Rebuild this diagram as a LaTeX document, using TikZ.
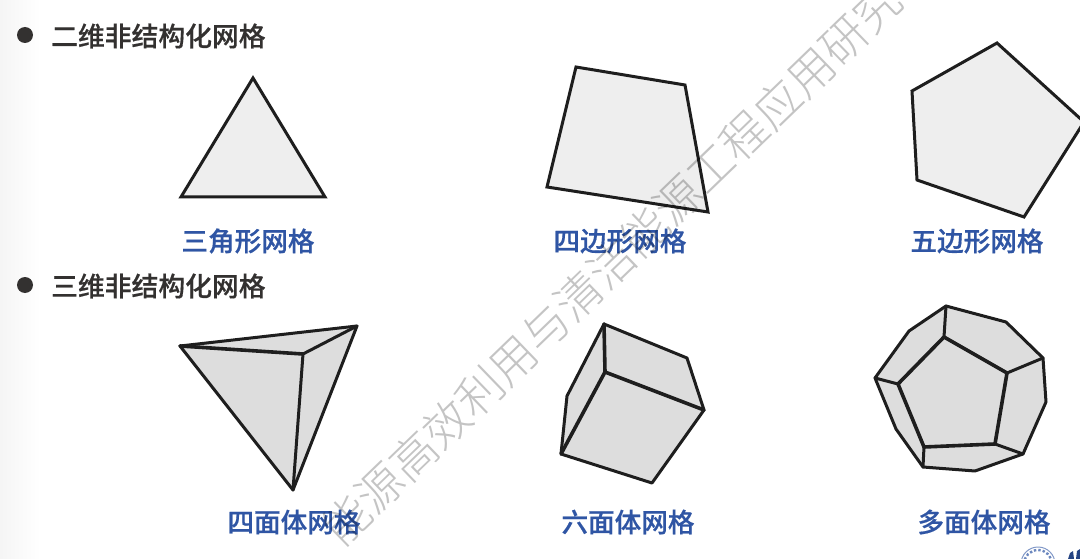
\documentclass[tikz,border=0pt]{standalone}
\usepackage{fontspec}
\setmainfont[BoldFont={Noto Sans CJK SC Medium},BoldFeatures={FakeBold=0.5}]{Noto Sans CJK SC}
\newfontfamily\wmfont{Noto Sans CJK SC Light}
\definecolor{headc}{HTML}{333130}
\definecolor{labelc}{HTML}{2F55A4}
\definecolor{flat}{HTML}{EEEEEE}
\definecolor{solid}{HTML}{DDDDDD}
\definecolor{wm}{HTML}{C4C4C4}
\definecolor{edge}{HTML}{1E1E1E}
\tikzset{
  x=1pt,y=-1pt,
  heading/.style={anchor=west,inner sep=0pt,text=headc,font=\fontsize{26.8}{27}\selectfont\bfseries},
  caption/.style={inner sep=0pt,text=labelc,font=\fontsize{26.6}{27}\selectfont\bfseries},
  bulletdot/.style={circle,fill=headc,minimum size=16pt,inner sep=0pt},
  faceflat/.style={draw=edge,fill=flat,line width=3pt,line join=miter},
  facesolid/.style={draw=edge,fill=solid,line width=3pt,line join=round},
  ridge/.style={draw=edge,line width=3pt,line cap=round,line join=round},
  thick ridge/.style={draw=edge,line width=3.6pt,line cap=round,line join=round},
  watermark/.style={inner sep=0pt,text=wm,rotate=44,font=\wmfont\fontsize{46}{46}\selectfont}
}
\begin{document}
\begin{tikzpicture}
\useasboundingbox (0,0) rectangle (1080,559);
\clip (0,0) rectangle (1080,559);
\fill[white] (0,0) rectangle (1080,559);
\shade[left color=black!4,right color=white] (0,0) rectangle (40,559);
% headings
\node[bulletdot] (b1) at (25,35) {};
\node[heading] (h1) at (51,36) {二维非结构化网格};
\node[bulletdot] (b2) at (25,285) {};
\node[heading] (h2) at (51,286) {三维非结构化网格};
% 2D shapes
\draw[faceflat] (253,78) -- (325,197) -- (181,197) -- cycle;
\draw[faceflat] (576,67) -- (685,85) -- (708,212) -- (547,187) -- cycle;
\draw[faceflat] (997,43) -- (1084,122) -- (1024,217) -- (917,180) -- (912,91) -- cycle;
% tetrahedron
\coordinate (ta) at (180,346);
\coordinate (tb) at (357,326);
\coordinate (tc) at (303,354);
\coordinate (td) at (293,490);
\draw[facesolid] (ta) -- (tb) -- (td) -- cycle;
\draw[thick ridge] (ta) -- (tc);
\draw[ridge] (tc) -- (tb) (tc) -- (td);
% hexahedron
\coordinate (c0) at (605,372);
\coordinate (c1) at (604,324);
\coordinate (c2) at (687,358);
\coordinate (c3) at (704,410);
\coordinate (c4) at (652,483);
\coordinate (c5) at (561,454);
\coordinate (c6) at (567,396);
\draw[facesolid] (c1) -- (c2) -- (c3) -- (c4) -- (c5) -- (c6) -- cycle;
\draw[thick ridge] (c0) -- (c1) (c0) -- (c3) (c0) -- (c5);
% dodecahedron
\coordinate (o1) at (946,306);
\coordinate (o2) at (1006,322);
\coordinate (o3) at (1043,358);
\coordinate (o4) at (1046,402);
\coordinate (o5) at (1023,454);
\coordinate (o6) at (975,471);
\coordinate (o7) at (923,467);
\coordinate (o8) at (896,429);
\coordinate (o9) at (875,378);
\coordinate (o10) at (909,331);
\coordinate (i1) at (944,337);
\coordinate (i2) at (1007,373);
\coordinate (i3) at (995,444);
\coordinate (i4) at (924,447);
\coordinate (i5) at (898,384);
\draw[facesolid] (o1) -- (o2) -- (o3) -- (o4) -- (o5) -- (o6) -- (o7) -- (o8) -- (o9) -- (o10) -- cycle;
\draw[thick ridge] (i1) -- (i2) -- (i3) -- (i4) -- (i5) -- cycle;
\draw[ridge] (i1) -- (o1) (i2) -- (o3) (i3) -- (o5) (i4) -- (o7) (i5) -- (o9);
% captions
\node[caption] (l1) at (248,241) {三角形网格};
\node[caption] (l2) at (620,241) {四边形网格};
\node[caption] (l3) at (977,241) {五边形网格};
\node[caption] (l4) at (294,522) {四面体网格};
\node[caption] (l5) at (628,522) {六面体网格};
\node[caption] (l6) at (984,522) {多面体网格};
% watermark
\begin{scope}[blend mode=multiply]
\node[watermark] (w) at (612,264) {能源高效利用与清洁能源工程应用研究};
\end{scope}
% logo fragment
\draw[labelc!60,line width=1pt,fill=white] (1038,564) circle (17);
\draw[labelc!70,line width=2.4pt,dotted] (1038,564) circle (14);
\fill[labelc!70!black] (1038,568) circle (9);
\fill[labelc!80!black] (1068,559) -- (1070,553) -- (1073,551) -- (1074,559) -- cycle;
\fill[labelc!80!black] (1076,559) -- (1077,551) -- (1080,549) -- (1080,559) -- cycle;
\end{tikzpicture}
\end{document}
